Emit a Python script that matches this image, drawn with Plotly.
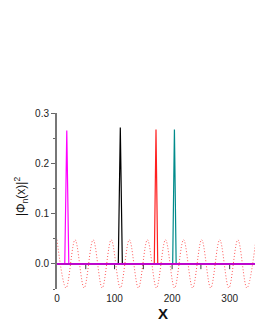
import plotly.graph_objects as go

# ---- data ----
state_centers = [17, 110, 172, 204]          # x position of each |Phi_n|^2 peak
state_peaks = [0.265, 0.271, 0.267, 0.267]  # peak heights
state_halfwidth = [3.5, 3.5, 3.0, 3.0]       # half base width of each peak
state_colors = ["#ff00ff", "#000000", "#ff2020", "#008b8b"]
state_order = [1, 2, 3, 0]  # draw magenta last (its zero line on top)

wave_x = [0, 15.7, 31.4, 47.1, 62.8, 78.5, 94.2, 110.0, 125.7, 141.4, 157.1,
          172.8, 188.5, 204.2, 219.9, 235.6, 251.3, 267.0, 282.7, 298.5,
          314.2, 329.9, 345.6]
wave_y = [0.048, -0.048, 0.048, -0.048, 0.048, -0.048, 0.048, -0.048, 0.048,
          -0.048, 0.048, -0.048, 0.048, -0.048, 0.048, -0.048, 0.048, -0.048,
          0.048, -0.048, 0.048, -0.048, 0.048]

zero_marks_x = [50, 100, 150, 200, 250, 300]
zero_marks_y = [-0.005, -0.005, -0.005, -0.005, -0.005, -0.005]

x_min, x_max = 0, 344
y_min, y_max = -0.05, 0.30
x_ticks = [0, 100, 200, 300]
y_ticks = [0.0, 0.1, 0.2, 0.3]
y_tick_labels = ["0.0", "0.1", "0.2", "0.3"]

W, H = 255, 330
ML, MT, MB, MR = 57, 113, 41, 0

fig = go.Figure()

# potential (dotted sine)
fig.add_trace(go.Scatter(
    x=wave_x, y=wave_y, mode="lines",
    line=dict(color="rgba(255,70,70,0.9)", width=1, dash="1px,2px", shape="spline"),
    hoverinfo="skip", showlegend=False))

fig.add_trace(go.Scatter(
    x=zero_marks_x, y=zero_marks_y, mode="markers",
    marker=dict(symbol="line-ns", size=4, line=dict(color="#333333", width=1)),
    hoverinfo="skip", showlegend=False))

# bound states
for i in state_order:
    c, h, w = state_centers[i], state_peaks[i], state_halfwidth[i]
    xs = [x_min - 5, c - w, c, c + w, x_max + 5]
    ys = [0, 0, h, 0, 0]
    fig.add_trace(go.Scatter(
        x=xs, y=ys, mode="lines",
        line=dict(color=state_colors[i], width=1.2),
        hoverinfo="skip", showlegend=False))

# zero line in magenta (drawn last)
fig.add_trace(go.Scatter(
    x=[x_min - 5, x_max + 5], y=[0, 0], mode="lines",
    line=dict(color="#c000d0", width=1.6),
    hoverinfo="skip", showlegend=False))

plot_w = W - ML - MR
plot_h = H - MT - MB
bottom_px = H - MB  # page y of plot bottom

fig.update_layout(
    width=W, height=H,
    margin=dict(l=ML, r=MR, t=MT, b=MB),
    paper_bgcolor="white", plot_bgcolor="white",
    font=dict(family="Liberation Sans, Arial, sans-serif", size=10, color="#222"),
    xaxis=dict(range=[x_min, x_max], tickvals=x_ticks, ticks="", showline=False,
               showgrid=False, zeroline=False, tickfont=dict(size=10),
               ticklabelstandoff=2),
    yaxis=dict(range=[y_min, y_max], tickvals=y_ticks, ticktext=y_tick_labels,
               ticks="outside", ticklen=4, tickcolor="#666", tickwidth=1,
               showline=True, linecolor="#777", linewidth=2,
               showgrid=False, zeroline=False, tickfont=dict(size=10),
               minor=dict(dtick=0.05, ticks="outside", ticklen=2, tickcolor="#666")),
)
fig.add_annotation(
    text="<b>X</b>", xref="paper", yref="paper",
    x=(163 - ML) / plot_w, y=-(313 - bottom_px) / plot_h,
    showarrow=False, font=dict(size=15, color="#111"),
    xanchor="center", yanchor="middle")
fig.add_annotation(
    text="|Φ<sub>n</sub>(x)|<sup>2</sup>", xref="paper", yref="paper",
    x=(21 - ML) / plot_w, y=(bottom_px - 197) / plot_h, textangle=-90,
    showarrow=False, font=dict(size=12, color="#111"),
    xanchor="center", yanchor="middle")

fig.write_html(
    "out.html",
    config={"displayModeBar": False},
    post_script="document.body.style.margin='0';document.body.style.overflow='hidden';")
